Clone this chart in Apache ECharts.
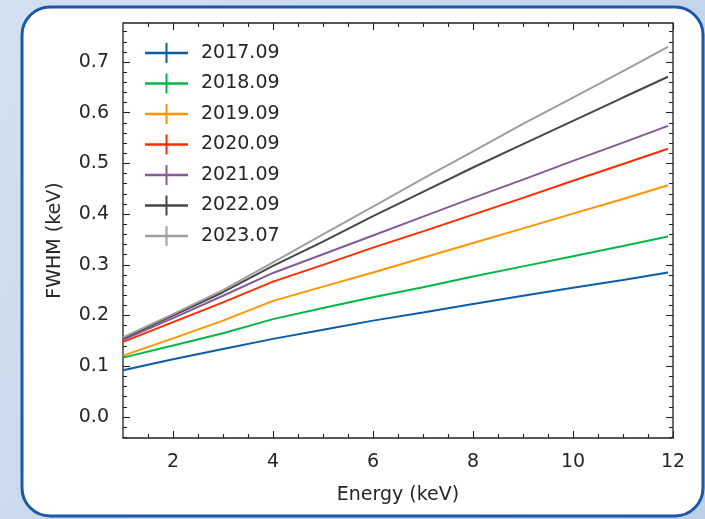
<!DOCTYPE html>
<html>
<head>
<meta charset="utf-8">
<script src="https://cdn.jsdelivr.net/npm/echarts@6/dist/echarts.min.js"></script>
<style>
  html, body { margin: 0; padding: 0; }
  #chart { width: 705px; height: 519px; }
</style>
</head>
<body>
<div id="chart"></div>
<script>
// Energy grid (keV) shared by every epoch
const energy = [1, 2, 3, 4, 5, 6, 7, 8, 9, 10, 11, 11.9];

// FWHM (keV) per observation epoch
const fwhm2017 = [0.092, 0.114, 0.134, 0.154, 0.172, 0.190, 0.206, 0.223, 0.239, 0.255, 0.270, 0.285];
const fwhm2018 = [0.117, 0.141, 0.165, 0.193, 0.215, 0.236, 0.256, 0.277, 0.297, 0.317, 0.337, 0.356];
const fwhm2019 = [0.121, 0.155, 0.190, 0.229, 0.257, 0.285, 0.314, 0.343, 0.372, 0.401, 0.430, 0.457];
const fwhm2020 = [0.148, 0.187, 0.226, 0.267, 0.300, 0.334, 0.366, 0.399, 0.432, 0.466, 0.499, 0.529];
const fwhm2021 = [0.152, 0.195, 0.239, 0.284, 0.321, 0.358, 0.395, 0.432, 0.468, 0.505, 0.541, 0.574];
const fwhm2022 = [0.155, 0.200, 0.246, 0.298, 0.346, 0.396, 0.444, 0.492, 0.538, 0.584, 0.630, 0.671];
const fwhm2023 = [0.157, 0.203, 0.250, 0.305, 0.360, 0.415, 0.470, 0.524, 0.578, 0.630, 0.682, 0.730];

const epochNames = ['2017.09', '2018.09', '2019.09', '2020.09', '2021.09', '2022.09', '2023.07'];
const epochValues = [fwhm2017, fwhm2018, fwhm2019, fwhm2020, fwhm2021, fwhm2022, fwhm2023];
const epochColors = ['#0C5DA5', '#00B945', '#FF9500', '#FF2C00', '#845B97', '#474747', '#9e9e9e'];

// Tick positions
const xMajorTicks = [2, 4, 6, 8, 10, 12];
const xMinorTicks = [1.5, 2.5, 3, 3.5, 4.5, 5, 5.5, 6.5, 7, 7.5, 8.5, 9, 9.5, 10.5, 11, 11.5];
const yMajorTicks = [0, 0.1, 0.2, 0.3, 0.4, 0.5, 0.6, 0.7];
const yMinorTicks = [-0.04, -0.02, 0.02, 0.04, 0.06, 0.08, 0.12, 0.14, 0.16, 0.18,
  0.22, 0.24, 0.26, 0.28, 0.32, 0.34, 0.36, 0.38, 0.42, 0.44, 0.46, 0.48,
  0.52, 0.54, 0.56, 0.58, 0.62, 0.64, 0.66, 0.68, 0.72, 0.74, 0.76];

const X_MIN = 1, X_MAX = 12;
const Y_MIN = -0.0415, Y_MAX = 0.777;
const FONT = 'DejaVu Sans';
const TEXT = '#262626';

function xAxisDef(position, ticks, len, withLabels) {
  return {
    type: 'value', position: position, min: X_MIN, max: X_MAX,
    axisLine: { show: false, onZero: false },
    splitLine: { show: false },
    axisTick: { show: true, inside: true, length: len, customValues: ticks,
      lineStyle: { color: '#222', width: 1.1 } },
    axisLabel: withLabels
      ? { show: true, customValues: ticks, margin: 15, fontFamily: FONT, fontSize: 19, color: TEXT,
          formatter: v => String(v) }
      : { show: false },
    name: withLabels ? 'Energy (keV)' : '',
    nameLocation: 'middle', nameGap: 48,
    nameTextStyle: { fontFamily: FONT, fontSize: 19, color: TEXT }
  };
}

function yAxisDef(position, ticks, len, withLabels) {
  return {
    type: 'value', position: position, min: Y_MIN, max: Y_MAX,
    axisLine: { show: false, onZero: false },
    splitLine: { show: false },
    axisTick: { show: true, inside: true, length: len, customValues: ticks,
      lineStyle: { color: '#222', width: 1.1 } },
    axisLabel: withLabels
      ? { show: true, customValues: ticks, margin: 14, fontFamily: FONT, fontSize: 19, color: TEXT,
          formatter: v => v.toFixed(1) }
      : { show: false },
    name: withLabels ? 'FWHM (keV)' : '',
    nameLocation: 'middle', nameGap: 58, nameRotate: 90,
    nameTextStyle: { fontFamily: FONT, fontSize: 19, color: TEXT, padding: [0, 20, 0, 0] }
  };
}

const series = epochNames.map((name, i) => ({
  name: name,
  type: 'line',
  xAxisIndex: 0,
  yAxisIndex: 0,
  data: energy.map((e, k) => [e, epochValues[i][k]]),
  showSymbol: false,
  symbol: 'none',
  color: epochColors[i],
  lineStyle: { width: 2, color: epochColors[i] },
  emphasis: { disabled: true },
  animation: false
}));

// Legend glyph: a horizontal line crossed by a short vertical bar
const crossIcon = 'path://M0 8.8 H43 V11.2 H0 Z M20.5 0 H22.5 V20 H20.5 Z';

const chart = echarts.init(document.getElementById('chart'), null, { renderer: 'canvas' });
chart.setOption({
  animation: false,
  backgroundColor: {
    type: 'linear', x: 0, y: 0, x2: 1, y2: 1,
    colorStops: [{ offset: 0, color: '#d3e0f0' }, { offset: 1, color: '#bccfe7' }]
  },
  graphic: [{
    type: 'rect', z: -10, silent: true,
    shape: { x: 22, y: 7, width: 681, height: 509, r: 28 },
    style: { fill: '#ffffff', stroke: '#1b58a8', lineWidth: 3 }
  }],
  grid: {
    left: 123, right: 32, top: 23, bottom: 81,
    containLabel: false, outerBoundsMode: 'none',
    show: true, borderColor: '#222', borderWidth: 1.3, backgroundColor: 'transparent'
  },
  xAxis: [
    xAxisDef('bottom', xMajorTicks, 7, true),
    xAxisDef('bottom', xMinorTicks, 4, false),
    xAxisDef('top', xMajorTicks, 7, false),
    xAxisDef('top', xMinorTicks, 4, false)
  ],
  yAxis: [
    yAxisDef('left', yMajorTicks, 7, true),
    yAxisDef('left', yMinorTicks, 4, false),
    yAxisDef('right', yMajorTicks, 7, false),
    yAxisDef('right', yMinorTicks, 4, false)
  ],
  legend: {
    orient: 'vertical', left: 140, top: 38,
    itemWidth: 43, itemHeight: 20, itemGap: 10.5,
    icon: crossIcon,
    selectedMode: false,
    textStyle: { fontFamily: FONT, fontSize: 19, color: TEXT, padding: [0, 0, 0, 8] },
    data: epochNames
  },
  series: series
});
</script>
</body>
</html>
